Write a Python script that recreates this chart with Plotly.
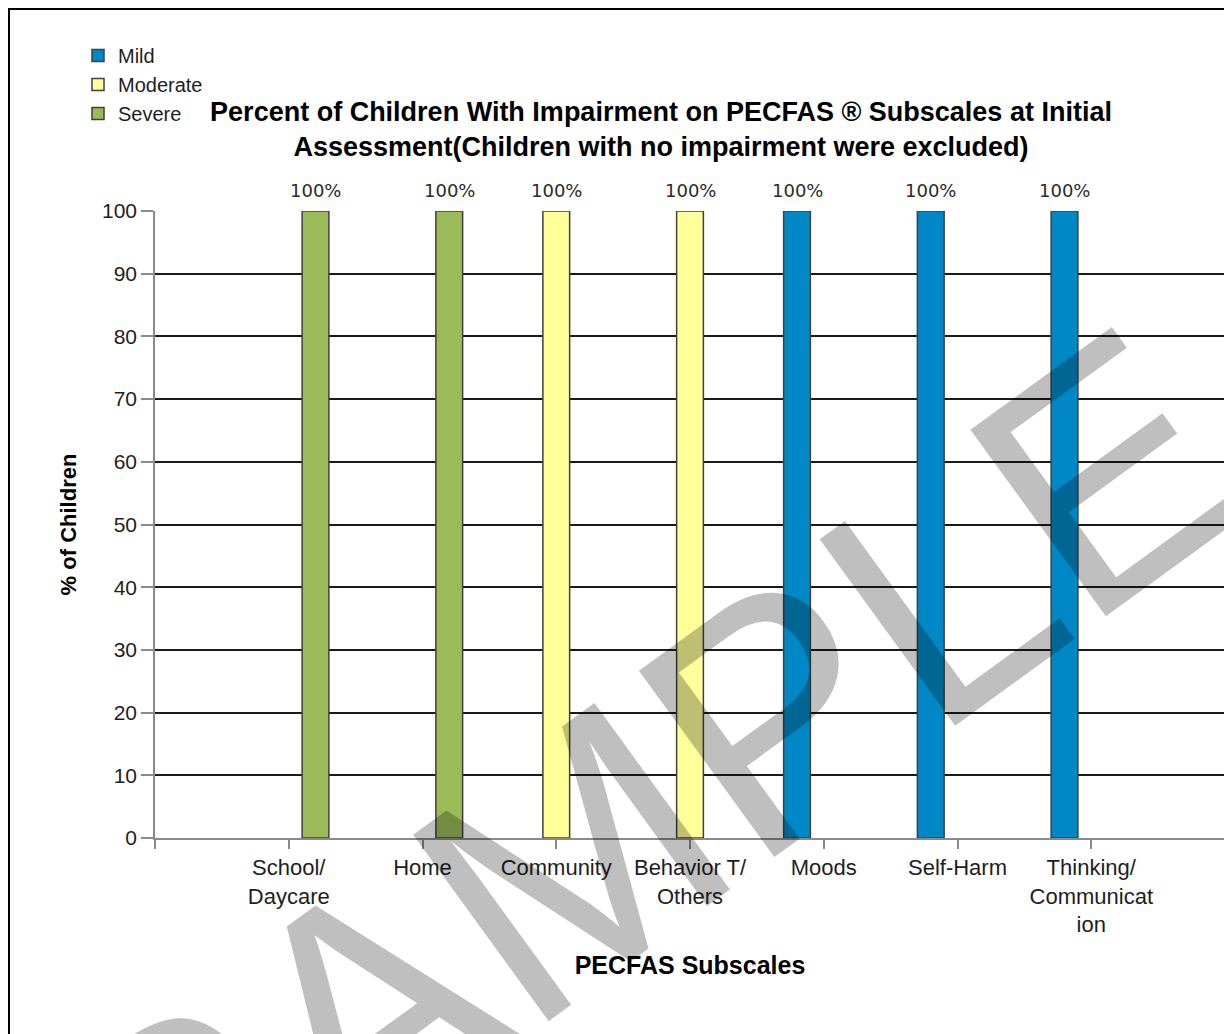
import plotly.graph_objects as go

# ---- data ----
categories = ["School/<br>Daycare", "Home", "Community", "Behavior T/<br>Others",
              "Moods", "Self-Harm", "Thinking/<br>Communicat<br>ion"]
series_names = ["Mild", "Moderate", "Severe"]
mild = [0, 0, 0, 0, 100, 100, 100]
moderate = [0, 0, 100, 100, 0, 0, 0]
severe = [100, 100, 0, 0, 0, 0, 0]
series_values = [mild, moderate, severe]
colors = ["#0088C6", "#FFFF99", "#9BBB59"]
y_ticks = list(range(0, 101, 10))

# figure sits at an 8px page offset (body margin)
OFF = 8
W, H = 1224, 1026
L, R, T, B = 147, 7, 203, 196
PW, PH = W - L - R, H - T - B

def px_x(p):
    return (p - OFF - L) / PW

def px_y(p):
    return (H - B - (p - OFF)) / PH

fig = go.Figure()
xs = list(range(len(categories)))
for name, vals, col in zip(series_names, series_values, colors):
    fig.add_trace(go.Bar(
        name=name, x=xs, y=[v if v else None for v in vals],
        marker=dict(color=col, line=dict(color="#404040", width=1.5)),
        hoverinfo="name+y",
    ))

# data labels above nonzero bars
n = len(series_names)
bar_w = 0.2
annotations = []
for k, vals in enumerate(series_values):
    off = (k - (n - 1) / 2) * bar_w
    for i, v in enumerate(vals):
        if v:
            annotations.append(dict(
                x=i + off, y=v, xref="x", yref="y", text=f"{v}%",
                showarrow=False, yshift=21, yanchor="middle",
                font=dict(family="DejaVu Sans", size=18, color="#2a2a2a"),
            ))

# watermark
annotations.append(dict(
    x=px_x(646), y=px_y(807), xref="paper", yref="paper",
    text="SAMPLE", showarrow=False, textangle=-36,
    xanchor="center", yanchor="middle",
    font=dict(family="Liberation Sans", size=335, color="rgba(0,0,0,0.25)"),
))

fig.update_layout(
    width=W, height=H,
    margin=dict(l=L, r=R, t=T, b=B, autoexpand=False),
    paper_bgcolor="white", plot_bgcolor="white",
    barmode="group", bargap=0.4, bargroupgap=0,
    font=dict(family="Liberation Sans", size=22, color="#1e1e1e"),
    title=dict(
        text="<b>Percent of Children With Impairment on PECFAS ® Subscales at Initial"
             "<br>Assessment(Children with no impairment were excluded)</b>",
        x=px_x(661), xref="paper", xanchor="center",
        y=1 - (120.5 - OFF) / H, yref="container", yanchor="middle",
        font=dict(family="Liberation Sans", size=27, color="#000000"),
    ),
    legend=dict(
        x=px_x(78), y=px_y(36), xanchor="left", yanchor="top",
        font=dict(size=20, color="#1e1e1e"),
        traceorder="normal", bgcolor="rgba(0,0,0,0)", tracegroupgap=0,
    ),
    xaxis=dict(
        type="linear", range=[-1, len(categories)],
        tickvals=list(range(-1, len(categories) + 1)),
        ticktext=[""] + categories + [""],
        showgrid=False, zeroline=False,
        showline=True, linecolor="#8a8a8a", linewidth=1.5,
        ticks="outside", ticklen=9, tickcolor="#8a8a8a", tickwidth=1.5,
        tickfont=dict(size=22, color="#1e1e1e"),
        title=dict(text="<b>PECFAS Subscales</b>", standoff=20,
                   font=dict(size=25, color="#000000")),
    ),
    yaxis=dict(
        range=[0, 100], tickvals=y_ticks,
        showgrid=True, gridcolor="#1a1a1a", gridwidth=1.5,
        zeroline=False,
        showline=True, linecolor="#8a8a8a", linewidth=1.5,
        ticks="outside", ticklen=12, tickcolor="#8a8a8a", tickwidth=1.5,
        tickfont=dict(size=21, color="#1e1e1e"),
        title=dict(text="<b>% of Children</b>", standoff=19,
                   font=dict(size=22, color="#000000")),
    ),
    annotations=annotations,
    shapes=[dict(type="rect", xref="paper", yref="paper",
                 x0=px_x(9), x1=px_x(1250), y0=px_y(1050), y1=px_y(9),
                 line=dict(color="#000000", width=2), layer="above")],
)

fig.write_html("out.html")
